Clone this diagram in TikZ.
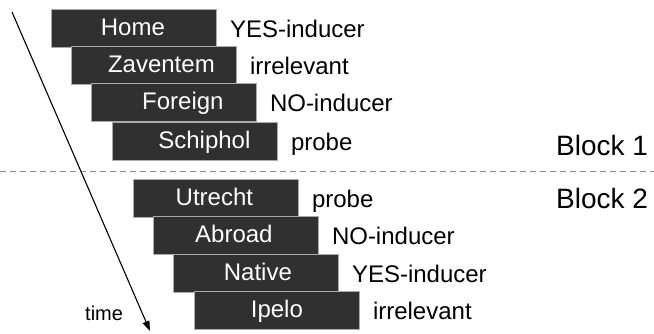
\documentclass[tikz,border=0pt]{standalone}
\usepackage{fontspec}
\setmainfont{Liberation Sans}
\usetikzlibrary{arrows.meta,calc}
\definecolor{boxfill}{RGB}{48,48,48}
\definecolor{boxline}{RGB}{170,170,170}
\definecolor{dashcol}{RGB}{140,140,140}
\begin{document}
\begin{tikzpicture}[x=1pt,y=-1pt,
  stim/.style={draw=boxline,line width=0.8pt,fill=boxfill,text=white,
    minimum width=165pt,minimum height=38pt,inner sep=0pt,anchor=north west,
    font=\fontsize{24}{24}\selectfont,text height=17pt,text depth=2.2pt},
  lab/.style={anchor=west,inner sep=0pt,font=\fontsize{24}{24}\selectfont,
    text height=17.2pt,text depth=0pt},
  blk/.style={anchor=west,inner sep=0pt,font=\fontsize{28}{28}\selectfont,
    text height=20pt,text depth=0pt}]
\useasboundingbox (0,0) rectangle (654,333);
% Block 1
\node[stim] (b1) at (51,9) {Home\hspace*{2pt}};
\node[lab] (l1) at ($(b1.east)+(13,0)$) {YES-inducer};
\node[stim] (b2) at (71,46) {\hspace*{15pt}Zaventem};
\node[lab] (l2) at ($(b2.east)+(13,0)$) {irrelevant};
\node[stim] (b3) at (91,83) {\hspace*{18pt}Foreign};
\node[lab] (l3) at ($(b3.east)+(13,0)$) {NO-inducer};
\node[stim] (b4) at (112,122) {\hspace*{19pt}Schiphol};
\node[lab] (l4) at ($(b4.east)+(13,0)$) {probe};
\node[blk] (k1) at (556,145) {Block 1};
% separator
\coordinate (s1) at (0,171);
\coordinate (s2) at (654,171);
\draw[dashcol,line width=1pt,dash pattern=on 6pt off 4pt] (s1) -- (s2);
% Block 2
\node[blk] (k2) at (556,198) {Block 2};
\node[stim] (c1) at (133,179) {Utrecht\hspace*{3pt}};
\node[lab] (m1) at ($(c1.east)+(13,0)$) {probe};
\node[stim] (c2) at (153,216) {Abroad\hspace*{4pt}};
\node[lab] (m2) at ($(c2.east)+(13,0)$) {NO-inducer};
\node[stim] (c3) at (173,254) {\hspace*{4pt}Native};
\node[lab] (m3) at ($(c3.east)+(13,0)$) {YES-inducer};
\node[stim] (c4) at (194,291) {Ipelo};
\node[lab] (m4) at ($(c4.east)+(13,0)$) {irrelevant};
% time arrow
\coordinate (t0) at (12,12);
\coordinate (t1) at (150,331);
\draw[line width=1.1pt,-{Triangle[length=10pt,width=7pt]}] (t0) -- (t1);
\node[anchor=west,inner sep=0pt,font=\fontsize{20}{20}\selectfont,text height=14.3pt,text depth=0pt] (tl) at (85,313) {time};
\end{tikzpicture}
\end{document}
